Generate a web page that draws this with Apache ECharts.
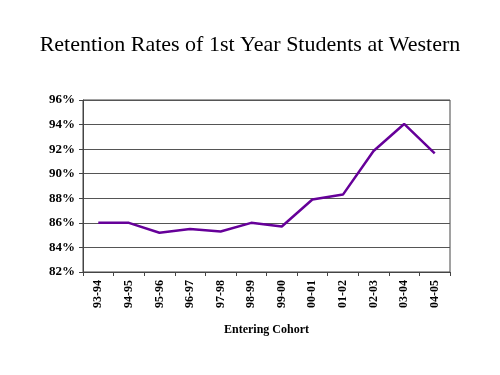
<!DOCTYPE html>
<html>
<head>
<meta charset="utf-8">
<script src="https://cdn.jsdelivr.net/npm/echarts@6/dist/echarts.min.js"></script>
<style>
html,body{margin:0;padding:0;background:#fff;}
#chart{width:500px;height:375px;}
</style>
</head>
<body>
<div id="chart"></div>
<script>
//入学年度
var cohorts=['93-94','94-95','95-96','96-97','97-98','98-99','99-00','00-01','01-02','02-03','03-04','04-05'];
//保留率(%)
var retention=[86.0,86.0,85.2,85.5,85.3,86.0,85.7,87.9,88.3,91.85,94.05,91.65];

var chart=echarts.init(document.getElementById('chart'));
var serif='"Liberation Serif","DejaVu Serif",serif';
var options={
	backgroundColor:'#ffffff',
	animation:false,
	title:{
		text:'Retention Rates of 1st Year Students at Western',
		left:'center',
		top:29,
		textStyle:{
			fontFamily:serif,
			fontWeight:'normal',
			fontSize:22,
			color:'#000'
		}
	},
	grid:{
		left:83,
		right:50,
		top:100,
		bottom:103,
		show:true,
		borderColor:'#444',
		borderWidth:1
	},
	xAxis:{
		type:'category',
		data:cohorts,
		boundaryGap:true,
		name:'Entering Cohort',
		nameLocation:'middle',
		nameGap:52,
		nameTextStyle:{
			fontFamily:serif,
			fontWeight:'bold',
			fontSize:12,
			color:'#000'
		},
		axisLine:{lineStyle:{color:'#444'}},
		axisTick:{show:true,length:4,lineStyle:{color:'#444'}},
		axisLabel:{
			rotate:90,
			fontFamily:serif,
			fontWeight:'bold',
			fontSize:12,
			color:'#000',
			margin:8
		}
	},
	yAxis:{
		type:'value',
		min:82,
		max:96,
		interval:2,
		axisLine:{show:true,lineStyle:{color:'#444'}},
		axisTick:{show:true,length:4,lineStyle:{color:'#444'}},
		splitLine:{lineStyle:{color:'#555',width:1}},
		axisLabel:{
			formatter:'{value}%',
			fontFamily:serif,
			fontWeight:'bold',
			fontSize:13,
			color:'#000',
			margin:8
		}
	},
	series:[
		{
			type:'line',
			data:retention,
			symbol:'none',
			lineStyle:{color:'#660099',width:2.5},
			itemStyle:{color:'#660099'}
		}
	]
};
chart.setOption(options);
</script>
</body>
</html>
